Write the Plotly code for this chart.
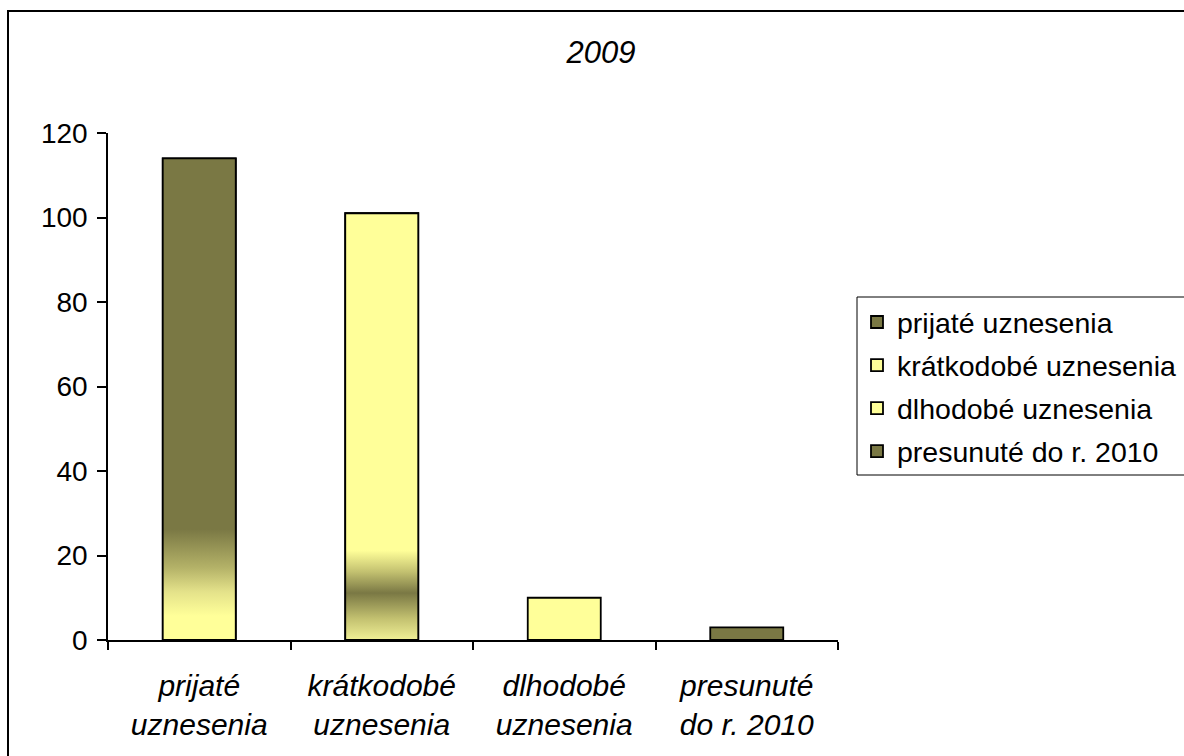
import plotly.graph_objects as go

categories = ["prijaté uznesenia", "krátkodobé uznesenia", "dlhodobé uznesenia", "presunuté do r. 2010"]
tick_labels = ["prijaté<br>uznesenia", "krátkodobé<br>uznesenia", "dlhodobé<br>uznesenia", "presunuté<br>do r. 2010"]
values = [114, 101, 10, 3]
title_text = "2009"

OLIVE = "rgb(122,120,68)"
YELLOW = "rgb(255,255,153)"
bar_colors = [OLIVE, YELLOW, YELLOW, OLIVE]
# vertical gradient stops (fraction of bar height, colour) for the shaded bars
gradients = {
    0: [[0.0, YELLOW], [0.05, YELLOW], [0.10, "rgb(228,226,138)"], [0.15, "rgb(180,178,104)"], [0.23, OLIVE], [1.0, OLIVE]],
    1: [[0.0, "rgb(240,240,150)"], [0.05, "rgb(195,193,112)"], [0.11, OLIVE], [0.16, "rgb(195,193,112)"], [0.21, YELLOW], [1.0, YELLOW]],
}

FONT = "Liberation Sans, Arial, sans-serif"
W = 0.4

fig = go.Figure()
for i, (cat, val, col) in enumerate(zip(categories, values, bar_colors)):
    fig.add_trace(go.Bar(
        x=[i], y=[val], name=cat, width=W, legendgroup=cat,
        marker=dict(color=col, line=dict(color="black", width=1.8)),
    ))
for i, stops in gradients.items():
    v = values[i]
    fig.add_trace(go.Scatter(
        x=[i - W / 2, i + W / 2, i + W / 2, i - W / 2, i - W / 2],
        y=[0, 0, v, v, 0],
        mode="lines", fill="toself", showlegend=False, hoverinfo="skip",
        line=dict(color="black", width=1.8),
        fillgradient=dict(type="vertical", colorscale=stops, start=0, stop=v),
    ))

fig.update_layout(
    width=1184, height=756,
    paper_bgcolor="white", plot_bgcolor="white",
    margin=dict(l=108, r=346, t=133, b=116, autoexpand=False),
    barmode="overlay",
    font=dict(family=FONT, size=28, color="black"),
    title=dict(text="<i>" + title_text + "</i>", x=601 / 1184, xanchor="center",
               y=1 - 52 / 756, yanchor="middle", font=dict(size=31, family=FONT)),
    legend=dict(xref="container", yref="container",
                x=857 / 1184, xanchor="left", y=1 - 297 / 756, yanchor="top",
                borderwidth=0, bgcolor="rgba(0,0,0,0)",
                font=dict(size=28.5, family=FONT), tracegroupgap=3, traceorder="grouped"),
    showlegend=True,
)
fig.update_xaxes(
    range=[-0.5, 3.5], tickmode="array", tickvals=list(range(len(categories))),
    ticktext=["<i>" + t + "</i>" for t in tick_labels],
    tickfont=dict(size=30),
    ticks="outside", ticklen=0, showline=True, linecolor="black", linewidth=1.5,
    showgrid=False, zeroline=False, ticklabelstandoff=18,
    minor=dict(tickmode="array", tickvals=[-0.5, 0.5, 1.5, 2.5, 3.5], ticks="outside",
               ticklen=8, tickcolor="black", tickwidth=1.5, showgrid=False),
    fixedrange=True,
)
fig.update_yaxes(
    range=[0, 120], tickmode="linear", tick0=0, dtick=20,
    tickfont=dict(size=28),
    ticks="outside", ticklen=9, tickwidth=1.5, tickcolor="black",
    showline=True, linecolor="black", linewidth=1.5, showgrid=False, zeroline=False,
    ticklabelstandoff=4, fixedrange=True,
)
# outer chart frame (right and bottom edges lie beyond the visible picture)
fig.add_shape(type="rect", xref="paper", yref="paper",
              x0=(8 - 108) / 730, x1=1.6, y0=-0.5, y1=(640 - 11) / 507,
              line=dict(color="black", width=2), fillcolor="rgba(0,0,0,0)", layer="below")
# legend frame (right edge runs past the picture)
fig.add_shape(type="rect", xref="paper", yref="paper",
              x0=(857 - 108) / 730, x1=1.6, y0=(640 - 475) / 507, y1=(640 - 297) / 507,
              line=dict(color="black", width=1), fillcolor="white", layer="below")

fig.write_html("out.html")
